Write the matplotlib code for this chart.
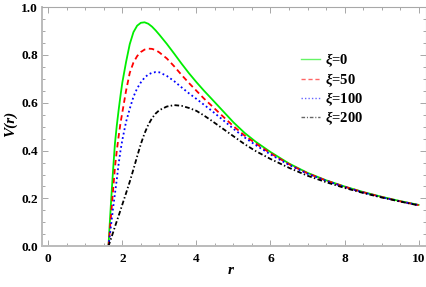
import matplotlib
matplotlib.use("Agg")
import matplotlib.pyplot as plt

# ---- data ----
r = [1.625, 1.65, 1.70, 1.75, 1.80, 1.85, 1.90, 1.95, 2.0, 2.1, 2.2, 2.3, 2.4, 2.5,
     2.6, 2.7, 2.8, 2.9, 3.0, 3.2, 3.4, 3.6, 3.8, 4.0, 4.2, 4.4, 4.7, 5.0, 5.3,
     5.6, 6.0, 6.5, 7.0, 7.5, 8.0, 8.5, 9.0, 9.5, 10.0]

v_xi0 = [0.0, 0.07, 0.20, 0.32, 0.43, 0.505, 0.57, 0.63, 0.685, 0.77, 0.845, 0.895,
         0.922, 0.934, 0.936, 0.930, 0.918, 0.902, 0.884, 0.846, 0.805, 0.763, 0.723,
         0.686, 0.651, 0.618, 0.568, 0.518, 0.474, 0.437, 0.394, 0.346, 0.307, 0.276,
         0.250, 0.227, 0.207, 0.189, 0.173]

v_xi50 = [0.0, 0.045, 0.14, 0.235, 0.33, 0.40, 0.46, 0.515, 0.56, 0.65, 0.725, 0.768,
          0.795, 0.812, 0.822, 0.826, 0.825, 0.820, 0.810, 0.785, 0.752, 0.716, 0.682,
          0.650, 0.618, 0.589, 0.545, 0.502, 0.463, 0.430, 0.389, 0.343, 0.305, 0.275,
          0.249, 0.226, 0.206, 0.188, 0.172]

v_xi100 = [0.0, 0.03, 0.095, 0.16, 0.22, 0.28, 0.345, 0.40, 0.445, 0.52, 0.575, 0.625,
           0.66, 0.685, 0.705, 0.718, 0.725, 0.728, 0.727, 0.712, 0.690, 0.664, 0.639,
           0.616, 0.592, 0.568, 0.530, 0.491, 0.455, 0.423, 0.384, 0.340, 0.303, 0.274,
           0.248, 0.225, 0.205, 0.188, 0.172]

v_xi200 = [0.0, 0.012, 0.035, 0.058, 0.082, 0.105, 0.128, 0.151, 0.175, 0.222, 0.270,
           0.322, 0.376, 0.428, 0.472, 0.508, 0.535, 0.555, 0.569, 0.584, 0.590, 0.587,
           0.578, 0.566, 0.547, 0.526, 0.493, 0.460, 0.427, 0.398, 0.365, 0.328, 0.295,
           0.268, 0.244, 0.223, 0.204, 0.187, 0.171]

labels = [r"$\xi$=0", r"$\xi$=50", r"$\xi$=100", r"$\xi$=200"]
x_ticks = [0, 2, 4, 6, 8, 10]
y_ticks = [0.0, 0.2, 0.4, 0.6, 0.8, 1.0]

# ---- style ----
plt.rcParams['font.family'] = ['Liberation Serif', 'DejaVu Serif']
plt.rcParams['font.weight'] = 'bold'
plt.rcParams['mathtext.fontset'] = 'custom'
plt.rcParams['mathtext.it'] = 'Liberation Serif:italic:bold'
plt.rcParams['mathtext.rm'] = 'Liberation Serif:bold'

fig = plt.figure(figsize=(4.27, 2.87), dpi=100)
ax = fig.add_axes([42/427, 1-246.3/287, (426-42)/427, (246.3-7)/287])

ax.plot(r, v_xi0, color='#00ee00', lw=1.3, ls='-', label=labels[0])
ax.plot(r, v_xi50, color='#ff0000', lw=1.3, ls=(0, (3, 2)), label=labels[1])
ax.plot(r, v_xi100, color='#0000ff', lw=1.3, ls=(0, (1, 1.5)), label=labels[2])
ax.plot(r, v_xi200, color='black', lw=1.3, ls=(0, (2.6, 1.3, 0.8, 1.3)), label=labels[3])

ax.set_xlim(-0.17, 10.2)
ax.set_ylim(0, 1.0)
ax.set_xticks(x_ticks)
ax.set_yticks(y_ticks)
ax.set_xticklabels([str(t) for t in x_ticks])
ax.set_yticklabels([f"{t:.1f}" for t in y_ticks])
ax.set_xticks([i * 0.5 for i in range(0, 21)], minor=True)
ax.set_yticks([i * 0.05 for i in range(0, 21)], minor=True)

ax.tick_params(which='both', direction='in', top=True, right=True, color='#999999',
               labelsize=9.6, width=0.6)
ax.tick_params(which='major', length=4)
ax.tick_params(which='minor', length=2.2)
ax.tick_params(axis='x', pad=5)
ax.tick_params(axis='y', pad=3)
for lab in ax.get_xticklabels() + ax.get_yticklabels():
    lab.set_fontweight('bold')

for side in ['left', 'bottom']:
    ax.spines[side].set_color('#bbbbbb')
    ax.spines[side].set_linewidth(1.4)
for side in ['top', 'right']:
    ax.spines[side].set_color('#a8a8a8')
    ax.spines[side].set_linewidth(0.8)

leg = ax.legend(loc='center left', bbox_to_anchor=(301/427, 1-89.5/287),
                bbox_transform=fig.transFigure, frameon=False, fontsize=10.5,
                handlelength=1.3, handletextpad=0.35, labelspacing=0.12,
                borderpad=0, borderaxespad=0)
for t in leg.get_texts():
    t.set_fontweight('bold')
for h in leg.get_lines():
    h.set_alpha(0.6)
    h.set_linewidth(1.0)

fig.text(10/427, 1-124/287, "V(r)", rotation=90, ha='center', va='center',
         fontsize=11, fontweight='bold', fontstyle='italic')
fig.text(231/427, 1-270/287, "r", ha='center', va='center',
         fontsize=11, fontweight='bold', fontstyle='italic')

fig.savefig("out.png", dpi=100)
